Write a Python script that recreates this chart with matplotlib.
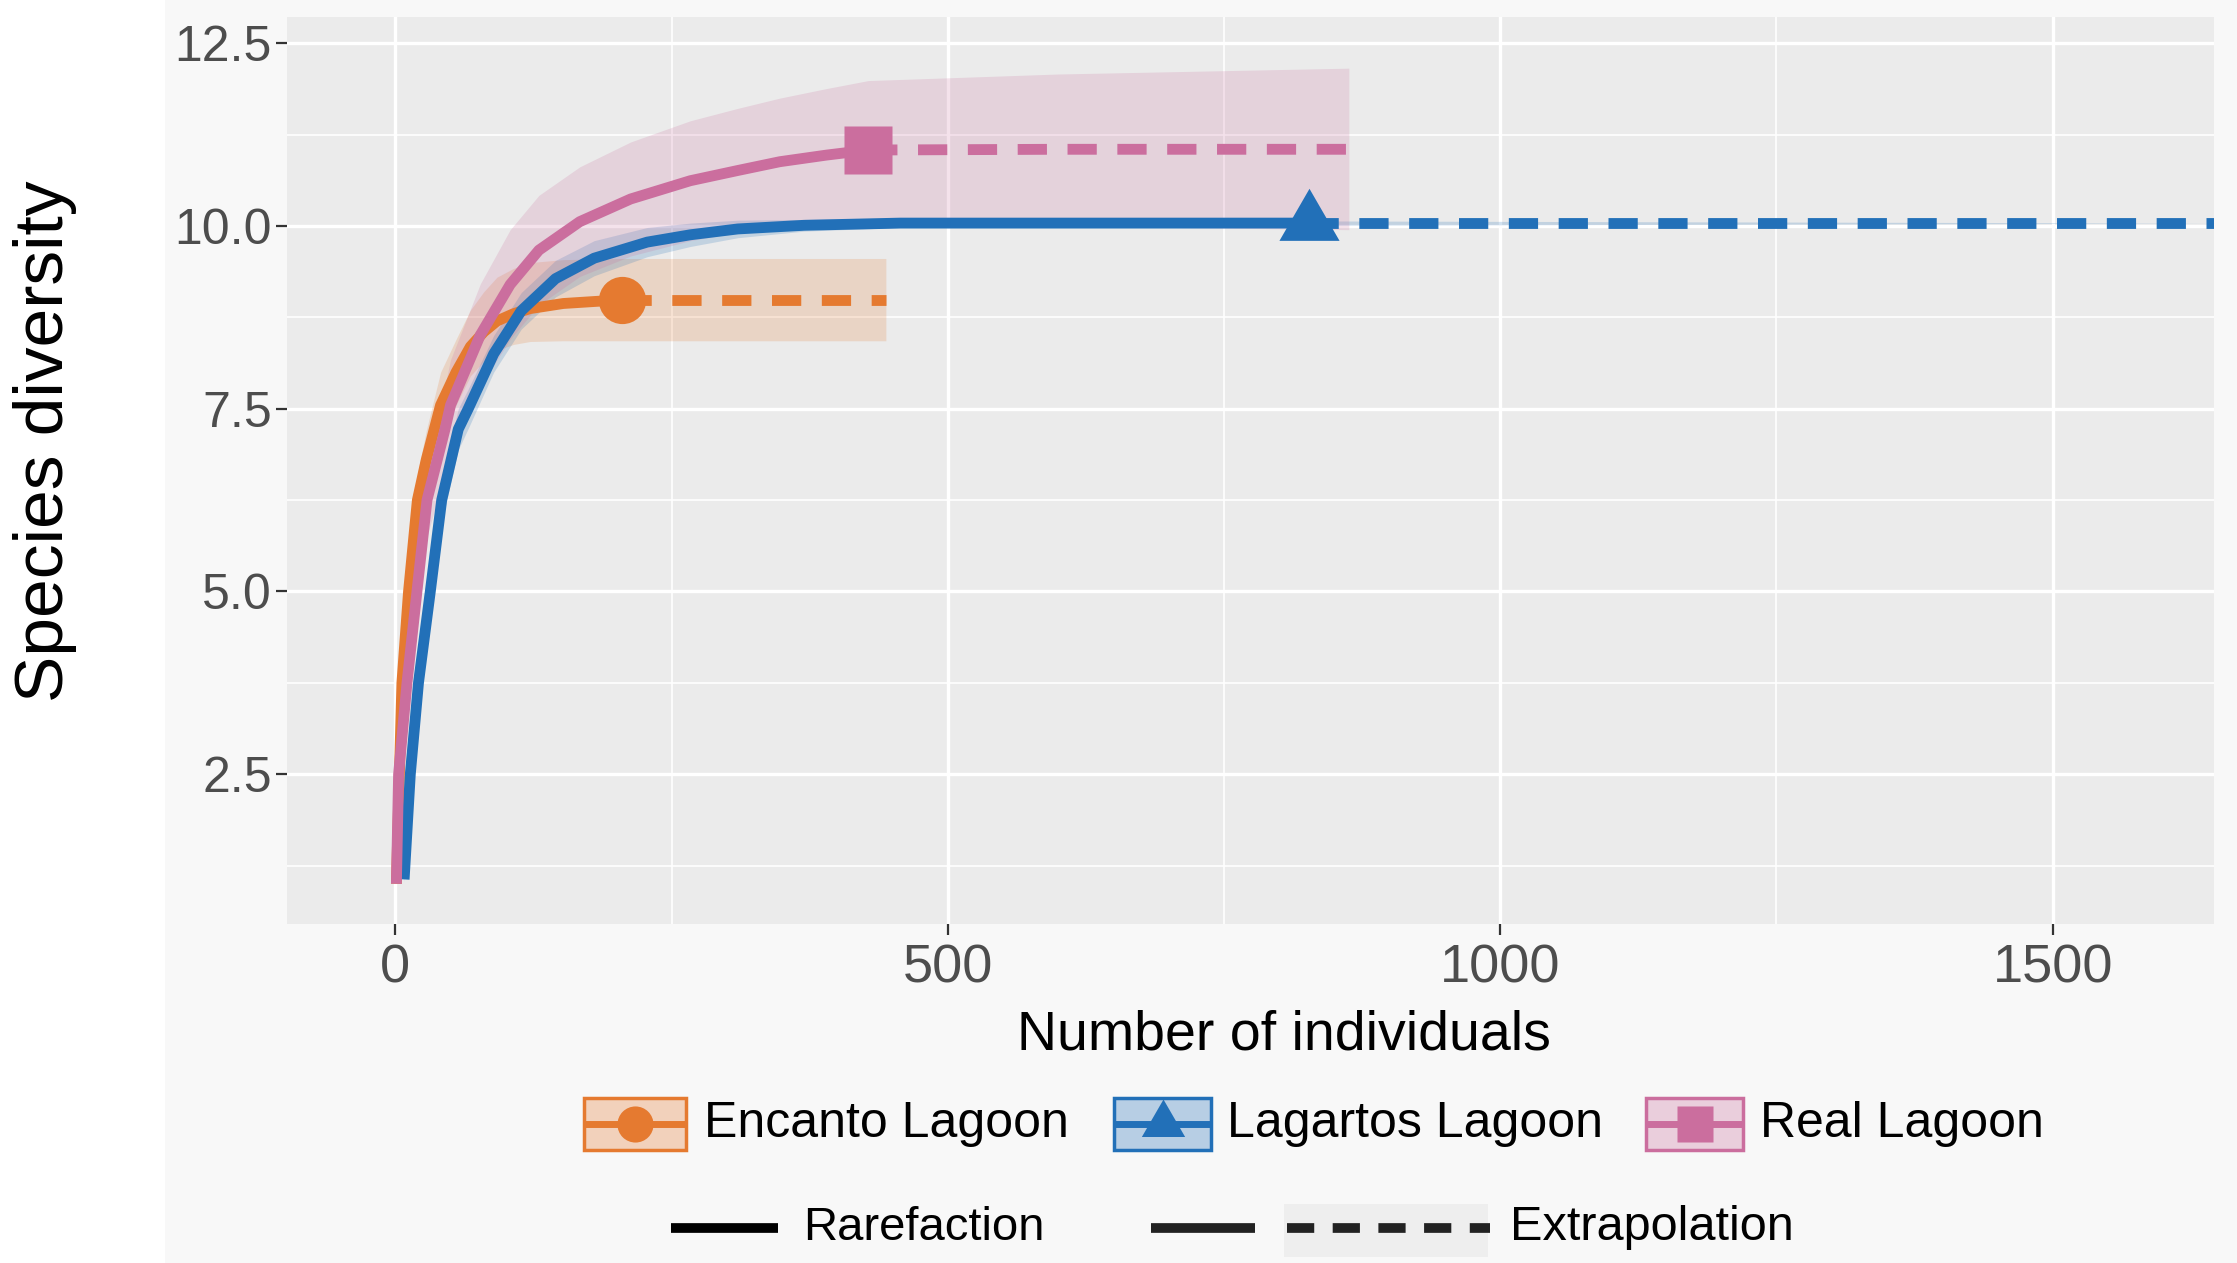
import numpy as np
import matplotlib.pyplot as plt
from matplotlib.patches import Rectangle
from matplotlib.lines import Line2D

plt.rcParams['font.family'] = ['Liberation Sans', 'DejaVu Sans']

# ---- data ----
# Encanto Lagoon
enc_x = [1, 6, 12, 20, 28, 41, 55, 68, 80, 92, 107, 122, 152, 183, 205]
enc_y = [1.0, 3.75, 5.0, 6.25, 6.8, 7.55, 8.0, 8.35, 8.55, 8.7, 8.8, 8.87, 8.94, 8.97, 8.99]
enc_lo = [1.0, 3.55, 4.7, 5.9, 6.4, 7.1, 7.55, 7.95, 8.15, 8.3, 8.38, 8.42, 8.43, 8.43, 8.43]
enc_hi = [1.0, 3.95, 5.3, 6.6, 7.2, 8.0, 8.45, 8.85, 9.1, 9.3, 9.42, 9.5, 9.54, 9.55, 9.556]
enc_ext_x = [205, 444]
enc_ext_y = [8.99, 8.99]
enc_ext_lo = [8.43, 8.43]
enc_ext_hi = [9.556, 9.556]

# Lagartos Lagoon
lag_x = [8, 13.6, 21, 31.7, 42, 57, 66, 89, 114, 145, 180, 228, 267, 310, 370, 457, 827]
lag_y = [1.06, 2.5, 3.75, 5.0, 6.25, 7.22, 7.5, 8.25, 8.84, 9.28, 9.56, 9.78, 9.88, 9.96, 10.01, 10.04, 10.04]
lag_lo = [1.02, 2.35, 3.55, 4.75, 5.95, 6.94, 7.23, 8.0, 8.59, 9.03, 9.32, 9.58, 9.72, 9.84, 9.93, 9.98, 10.01]
lag_hi = [1.1, 2.65, 3.95, 5.25, 6.55, 7.5, 7.77, 8.5, 9.09, 9.53, 9.8, 9.98, 10.04, 10.08, 10.09, 10.1, 10.07]
lag_ext_x = [827, 1654]
lag_ext_y = [10.04, 10.04]
lag_ext_lo = [10.01, 10.04]
lag_ext_hi = [10.07, 10.04]

# Real Lagoon
real_x = [1, 3, 10.6, 19.6, 28.7, 45, 50, 77, 104, 130, 167, 213, 267, 310, 348, 390, 428]
real_y = [1.0, 2.5, 3.75, 5.0, 6.25, 7.22, 7.55, 8.51, 9.2, 9.67, 10.06, 10.37, 10.62, 10.76, 10.88, 10.97, 11.04]
real_lo = [1.0, 2.35, 3.45, 4.6, 5.75, 6.62, 6.93, 7.81, 8.45, 8.92, 9.31, 9.59, 9.8, 9.91, 10.01, 10.06, 10.09]
real_hi = [1.0, 2.65, 4.05, 5.4, 6.75, 7.82, 8.17, 9.21, 9.95, 10.42, 10.81, 11.15, 11.44, 11.61, 11.75, 11.88, 11.99]
real_ext_x = [428, 600, 863]
real_ext_y = [11.04, 11.05, 11.05]
real_ext_lo = [10.09, 10.0, 9.95]
real_ext_hi = [11.99, 12.08, 12.16]

site_names = ['Encanto Lagoon', 'Lagartos Lagoon', 'Real Lagoon']
site_colors = ['#E57A30', '#2270B8', '#CB6E9E']
site_markers = ['o', (3, 0, 0), 's']
marker_sizes = [34, 50, 34]

x_ticks = [0, 500, 1000, 1500]
y_ticks = [2.5, 5.0, 7.5, 10.0, 12.5]

sites = [
    (enc_x, enc_y, enc_lo, enc_hi, enc_ext_x, enc_ext_y, enc_ext_lo, enc_ext_hi),
    (lag_x, lag_y, lag_lo, lag_hi, lag_ext_x, lag_ext_y, lag_ext_lo, lag_ext_hi),
    (real_x, real_y, real_lo, real_hi, real_ext_x, real_ext_y, real_ext_lo, real_ext_hi),
]

W, H = 2237, 1263
def fx(p):
    return p / W
def fy(p):
    return 1 - p / H

fig = plt.figure(figsize=(W / 100, H / 100), dpi=100, facecolor='#f8f8f8')
fig.patches.append(Rectangle((0, 0), fx(165), 1, transform=fig.transFigure,
                             facecolor='white', edgecolor='none', zorder=0))

ax = fig.add_axes([fx(287), fy(924), (2214 - 287) / W, (924 - 17) / H])
ax.set_facecolor('#ebebeb')
for s in ax.spines.values():
    s.set_visible(False)
ax.set_axisbelow(True)

lw = 7.8
# ribbons first
for (x, y, lo, hi, ex, ey, elo, ehi), col in zip(sites, site_colors):
    bx = list(x) + list(ex[1:])
    blo = list(lo) + list(elo[1:])
    bhi = list(hi) + list(ehi[1:])
    ax.fill_between(bx, blo, bhi, color=col, alpha=0.2, linewidth=0, zorder=2)

for (x, y, lo, hi, ex, ey, elo, ehi), col in zip(sites, site_colors):
    ax.plot(x, y, color=col, lw=lw, solid_capstyle='butt', solid_joinstyle='round', zorder=3)
    ax.plot(ex, ey, color=col, lw=lw, dashes=(2.7, 1.9), dash_capstyle='butt', zorder=3)

for (x, y, lo, hi, ex, ey, elo, ehi), col, mk, ms in zip(sites, site_colors, site_markers, marker_sizes):
    ax.plot([x[-1]], [y[-1]], marker=mk, ms=ms, color=col, mec='none', zorder=4)

ax.set_xlim(-98, 1646)
ax.set_ylim(0.45, 12.86)
ax.set_xticks(x_ticks)
ax.set_xticks([250, 750, 1250], minor=True)
ax.set_yticks(y_ticks)
ax.set_yticks([1.25, 3.75, 6.25, 8.75, 11.25], minor=True)
ax.set_yticklabels([f'{v:.1f}' for v in y_ticks])
ax.grid(which='major', color='white', lw=2.4)
ax.grid(which='minor', color='white', lw=1.2)
ax.tick_params(which='major', length=8, width=1.6, color='#333333', labelcolor='#4d4d4d', pad=3)
ax.tick_params(which='minor', length=0)
ax.tick_params(axis='y', labelsize=36)
ax.tick_params(axis='x', labelsize=39, pad=6)

fig.text(fx(1284), fy(1036), 'Number of individuals', fontsize=40, ha='center', va='center')
fig.text(fx(45), fy(441), 'Species diversity', fontsize=50, rotation=90, ha='center', va='center')

# ---- legend drawn by hand ----
row1 = 1124
keys = [(584, 686, 704), (1114, 1211, 1227), (1646, 1743, 1760)]
key_ms = [26, 36, 26]
for (k0, k1, tx), col, mk, ms, name in zip(keys, site_colors, site_markers, key_ms, site_names):
    fig.patches.append(Rectangle((fx(k0), fy(row1 + 26)), (k1 - k0) / W, 52 / H,
                                 transform=fig.transFigure, facecolor=col, alpha=0.3,
                                 edgecolor='none'))
    fig.patches.append(Rectangle((fx(k0), fy(row1 + 26)), (k1 - k0) / W, 52 / H,
                                 transform=fig.transFigure, facecolor='none',
                                 edgecolor=col, lw=2.5))
    fig.add_artist(Line2D([fx(k0), fx(k1)], [fy(row1), fy(row1)], transform=fig.transFigure,
                          color=col, lw=5, solid_capstyle='butt'))
    fig.add_artist(Line2D([fx((k0 + k1) / 2)], [fy(row1)], transform=fig.transFigure,
                          marker=mk, ms=ms, color=col, mec='none'))
    fig.text(fx(tx), fy(row1), name, fontsize=36, ha='left', va='center')

row2 = 1228
fig.add_artist(Line2D([fx(671), fx(778)], [fy(row2), fy(row2)], transform=fig.transFigure,
                      color='black', lw=7, solid_capstyle='butt'))
fig.text(fx(803), fy(row2), 'Rarefaction', fontsize=34, ha='left', va='center')
fig.add_artist(Line2D([fx(1151), fx(1255)], [fy(row2), fy(row2)], transform=fig.transFigure,
                      color='#222222', lw=7, solid_capstyle='butt'))
fig.patches.append(Rectangle((fx(1284), fy(1257)), (1488 - 1284) / W, 53 / H,
                             transform=fig.transFigure, facecolor='#eeeeee', edgecolor='none'))
fig.add_artist(Line2D([fx(1287), fx(1490)], [fy(row2), fy(row2)], transform=fig.transFigure,
                      color='#222222', lw=7, dashes=(2.8, 1.9), dash_capstyle='butt'))
fig.text(fx(1510), fy(row2), 'Extrapolation', fontsize=35, ha='left', va='center')

fig.savefig('out.png', dpi=100, facecolor=fig.get_facecolor())
